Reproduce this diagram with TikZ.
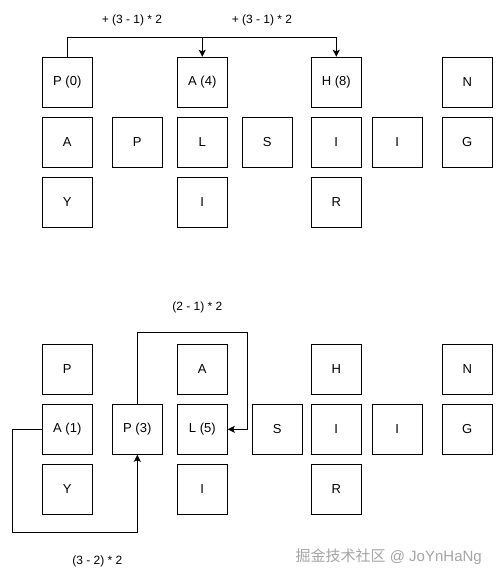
\documentclass[tikz,border=0pt]{standalone}
\usepackage{fontspec}
\setmainfont{Liberation Sans}
\newfontfamily\cjk{Noto Sans CJK SC}
\usetikzlibrary{arrows.meta}
\definecolor{wmgray}{RGB}{165,165,165}
\begin{document}
\begin{tikzpicture}[x=1pt,y=-1pt,
  cell/.style={draw, line width=1pt, minimum size=50pt, inner sep=0pt, font=\fontsize{13}{15}\selectfont},
  lbl/.style={font=\fontsize{12}{14}\selectfont, inner sep=0pt},
  conn/.style={line width=1pt},
  arr/.style={conn,-{Stealth[length=7pt,width=7pt,inset=1.5pt]}}]
\useasboundingbox (0,0) rectangle (498,582);
% top grid
\node[cell] (tP) at (67.3,82.3) {P (0)};
\node[cell] (tA) at (202.3,82.3) {A (4)};
\node[cell] (tH) at (336.3,82.3) {H (8)};
\node[cell] (tN) at (467.3,82.3) {N};
\node[cell] (tA2) at (67.3,142.3) {A};
\node[cell] (tP2) at (137.3,142.3) {P};
\node[cell] (tL) at (202.3,142.3) {L};
\node[cell] (tS) at (267.3,142.3) {S};
\node[cell] (tI) at (336.3,142.3) {I};
\node[cell] (tI2) at (397.3,142.3) {I};
\node[cell] (tG) at (467.3,142.3) {G};
\node[cell] (tY) at (67.3,202.3) {Y};
\node[cell] (tI3) at (202.3,202.3) {I};
\node[cell] (tR) at (336.3,202.3) {R};
% top connectors
\coordinate (bus) at (0,37.3);
\draw[arr] (tP.north) -- (tP.north |- bus) -- (tH.north |- bus) -- (tH.north);
\draw[arr] (tA.north |- bus) -- (tA.north);
\node[lbl] (tl1) at (132,20.7) {+ (3 - 1) * 2};
\node[lbl] (tl2) at (262,20.7) {+ (3 - 1) * 2};
% bottom grid
\node[cell] (bP0) at (67.3,369.3) {P};
\node[cell] (bA0) at (202.3,369.3) {A};
\node[cell] (bH) at (336.3,369.3) {H};
\node[cell] (bN) at (467.3,369.3) {N};
\node[cell] (bA) at (67.3,429.3) {A (1)};
\node[cell] (bP) at (137.3,429.3) {P (3)};
\node[cell] (bL) at (202.3,429.3) {L (5)};
\node[cell] (bS) at (277.3,429.3) {S};
\node[cell] (bI) at (336.3,429.3) {I};
\node[cell] (bI2) at (397.3,429.3) {I};
\node[cell] (bG) at (467.3,429.3) {G};
\node[cell] (bY) at (67.3,489.3) {Y};
\node[cell] (bI3) at (202.3,489.3) {I};
\node[cell] (bR) at (336.3,489.3) {R};
% bottom connectors
\coordinate (b1) at (247.3,332.3);
\draw[arr] (bP.north) |- (b1) |- (bL.east);
\coordinate (b2) at (12.3,532);
\draw[arr] (bA.west) -| (b2) -| (bP.south);
\node[lbl] (bl1) at (197.3,307.3) {(2 - 1) * 2};
\node[lbl] (bl2) at (97.3,561.7) {(3 - 2) * 2};
% watermark
\node[font=\fontsize{15}{17}\selectfont, text=wmgray, inner sep=0pt, anchor=east] (wm) at (482,556.7) {{\cjk 掘金技术社区} @ JoYnHaNg};
\end{tikzpicture}
\end{document}
